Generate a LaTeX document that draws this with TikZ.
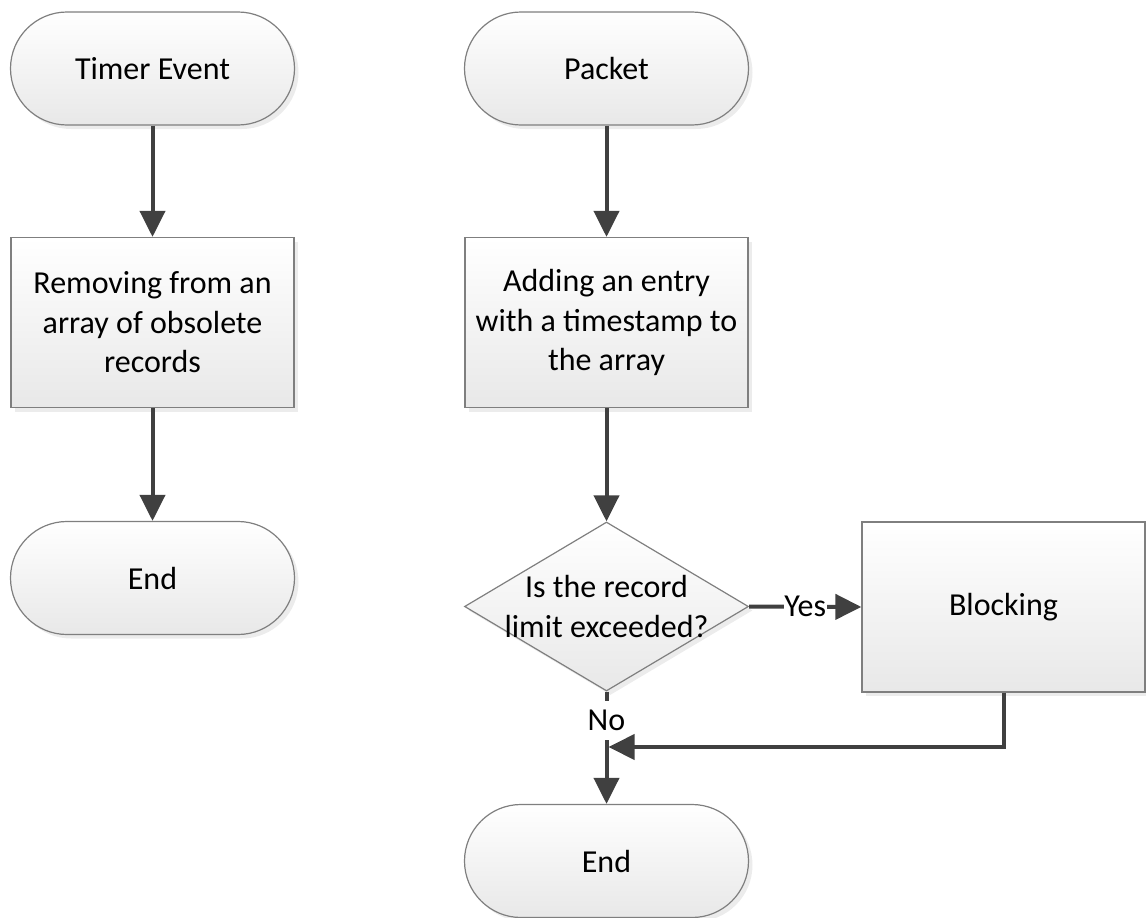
\documentclass[tikz,border=0pt]{standalone}
\usepackage{fontspec}
\setmainfont{Carlito}
\usetikzlibrary{arrows.meta,shapes.geometric,shadows}
\definecolor{edgegray}{HTML}{7F7F7F}
\definecolor{flowline}{HTML}{404040}
\begin{document}
\begin{tikzpicture}[x=1pt,y=-1pt,
  font=\fontsize{32}{39.5}\selectfont,
  shapebase/.style={draw=edgegray, line width=1.2pt, top color=white, bottom color=black!9,
    drop shadow={shadow xshift=4pt, shadow yshift=-4pt, fill=black!15}},
  terminal/.style={shapebase, rectangle, rounded corners=56.5pt,
    minimum width=284pt, minimum height=113pt, inner sep=0pt},
  process/.style={shapebase, rectangle, minimum width=283pt, minimum height=170pt,
    align=center, inner sep=0pt},
  decision/.style={shapebase, diamond, minimum width=284pt, minimum height=169pt, inner sep=0pt},
  flow/.style={draw=flowline, line width=4pt, -{Triangle[length=26pt,width=25pt]}},
  flowlabel/.style={fill=white, text=black, inner xsep=0.5pt, inner ysep=2pt}
]
\useasboundingbox (0,0) rectangle (1146,918);

% left branch: timer event
\node[terminal] (timer) at (152.5,68.5) {Timer Event};
\node[process]  (remove) at (152.5,322.5) {Removing from an\\array of obsolete\\records};
\node[terminal] (endL) at (152.5,578) {End};

% right branch: incoming packet
\node[terminal] (packet) at (606.5,68.5) {Packet};
\node[process]  (add) at (606.5,322.5) {Adding an entry\\with a timestamp to\\the array};
\node[decision] (dec) at (606.5,606.5) {};
\node[align=center, inner sep=0pt] (dectext) at (dec.center) {Is the record\\limit exceeded?};
\node[process]  (block) at (1003.5,607) {Blocking};
\node[terminal] (endR) at (606.5,861) {End};

\coordinate (merge) at (608.5,747);

% connectors
\draw[flow] (timer.south) -- (remove.north);
\draw[flow] (remove.south) -- (endL.north);
\draw[flow] (packet.south) -- (add.north);
\draw[flow] (add.south) -- (dec.north);
\draw[flow] (dec.east) -- node[flowlabel] {Yes} (block.west);
\draw[flow] (dec.south) -- node[flowlabel, pos=0.26, inner ysep=9pt] {No} (endR.north);
\draw[flow] (block.south) |- (merge);
\end{tikzpicture}
\end{document}
